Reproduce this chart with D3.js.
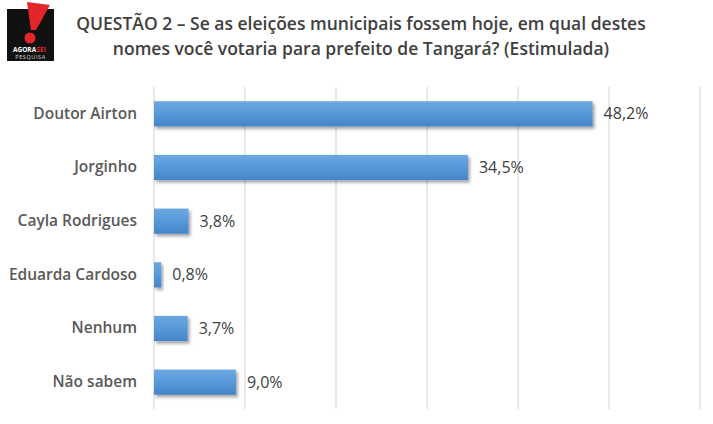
<!DOCTYPE html>
<html>
<head>
<meta charset="utf-8">
<script src="https://cdn.jsdelivr.net/npm/d3@7"></script>
<style>
  body { margin: 0; background: #fff; }
  svg { display: block; font-family: "Open Sans", "Noto Sans", sans-serif; }
</style>
</head>
<body>
<svg id="chart"></svg>
<script>
const categories = ['Doutor Airton', 'Jorginho', 'Cayla Rodrigues', 'Eduarda Cardoso', 'Nenhum', 'Não sabem'];
const values = [48.2, 34.5, 3.8, 0.8, 3.7, 9.0];
const valueLabels = ['48,2%', '34,5%', '3,8%', '0,8%', '3,7%', '9,0%'];
const titleLines = [
    'QUESTÃO 2 – Se as eleições municipais fossem hoje, em qual destes',
    'nomes você votaria para prefeito de Tangará? (Estimulada)'
];

const width = 713, height = 424;
const margin = {top: 87, right: 13, bottom: 15, left: 154};
const inner_width = width - margin.left - margin.right;
const inner_height = height - margin.top - margin.bottom;

const svg = d3.select('#chart')
    .attr('width', width)
    .attr('height', height);

const defs = svg.append('defs');
const grad = defs.append('linearGradient')
    .attr('id', 'bargrad')
    .attr('x1', 0).attr('y1', 0).attr('x2', 0).attr('y2', 1);
grad.append('stop').attr('offset', '0%').attr('stop-color', '#6ca8e0');
grad.append('stop').attr('offset', '50%').attr('stop-color', '#5799d8');
grad.append('stop').attr('offset', '100%').attr('stop-color', '#4584c7');

const shadow = defs.append('filter')
    .attr('id', 'shadow')
    .attr('x', '-20%').attr('y', '-20%').attr('width', '150%').attr('height', '170%');
shadow.append('feDropShadow')
    .attr('dx', 2).attr('dy', 2.5).attr('stdDeviation', 1.6)
    .attr('flood-color', '#000').attr('flood-opacity', 0.35);

// logo
const logo = svg.append('g');
logo.append('rect').attr('x', 7).attr('y', 9).attr('width', 47).attr('height', 52).attr('fill', '#111');
logo.append('path')
    .attr('d', 'M27,2 L50,5 L36,30 L31,30 Z')
    .attr('fill', '#e4262a');
logo.append('circle').attr('cx', 30).attr('cy', 38).attr('r', 5.5).attr('fill', '#e4262a');
logo.append('text')
    .attr('x', 13).attr('y', 52)
    .attr('font-size', 6.5).attr('font-weight', 'bold')
    .attr('fill', '#fff')
    .text('AGORA');
logo.append('text')
    .attr('x', 36.5).attr('y', 52)
    .attr('font-size', 6.5).attr('font-weight', 'bold')
    .attr('fill', '#e4262a')
    .text('SEI');
logo.append('text')
    .attr('x', 30.5).attr('y', 59)
    .attr('text-anchor', 'middle')
    .attr('font-size', 5.5).attr('letter-spacing', 0.6)
    .attr('fill', '#ddd')
    .text('PESQUISA');

// title
svg.append('g').selectAll('text')
    .data(titleLines)
    .join('text')
    .attr('x', 361)
    .attr('y', (d, i) => 30 + i * 25)
    .attr('text-anchor', 'middle')
    .attr('font-size', 17.5)
    .attr('font-weight', 600)
    .attr('fill', '#404040')
    .text(d => d);

const chart = svg.append('g')
    .attr('transform', `translate(${margin.left}, ${margin.top})`);

const xscale = d3.scaleLinear()
    .domain([0, 60])
    .range([0, inner_width]);

const yscale = d3.scaleBand()
    .domain(categories)
    .range([0, inner_height])
    .paddingInner(0.53)
    .paddingOuter(0.265);

// gridlines
chart.append('g')
    .selectAll('line')
    .data(xscale.ticks(6))
    .join('line')
    .attr('x1', d => xscale(d)).attr('x2', d => xscale(d))
    .attr('y1', 0).attr('y2', inner_height)
    .attr('stroke', '#d9d9d9')
    .attr('stroke-width', 1.2);

// bars
chart.append('g')
    .selectAll('rect')
    .data(values)
    .join('rect')
    .attr('x', xscale(0))
    .attr('y', (d, i) => yscale(categories[i]))
    .attr('width', d => xscale(d) - xscale(0))
    .attr('height', yscale.bandwidth())
    .attr('fill', 'url(#bargrad)')
    .attr('filter', 'url(#shadow)');

// value labels
chart.append('g')
    .selectAll('text')
    .data(values)
    .join('text')
    .attr('x', d => xscale(d) + 11)
    .attr('y', (d, i) => yscale(categories[i]) + yscale.bandwidth() / 2)
    .attr('dy', '0.35em')
    .attr('font-size', 16)
    .attr('fill', '#404040')
    .text((d, i) => valueLabels[i]);

// category axis
const yaxis = d3.axisLeft(yscale).tickSize(0).tickPadding(17);
const yaxis_group = chart.append('g').call(yaxis);
yaxis_group.select('.domain').remove();
yaxis_group.selectAll('text')
    .attr('font-family', '"Open Sans", "Noto Sans", sans-serif')
    .attr('font-size', 15.5)
    .attr('font-weight', 600)
    .attr('fill', '#595959');
</script>
</body>
</html>
